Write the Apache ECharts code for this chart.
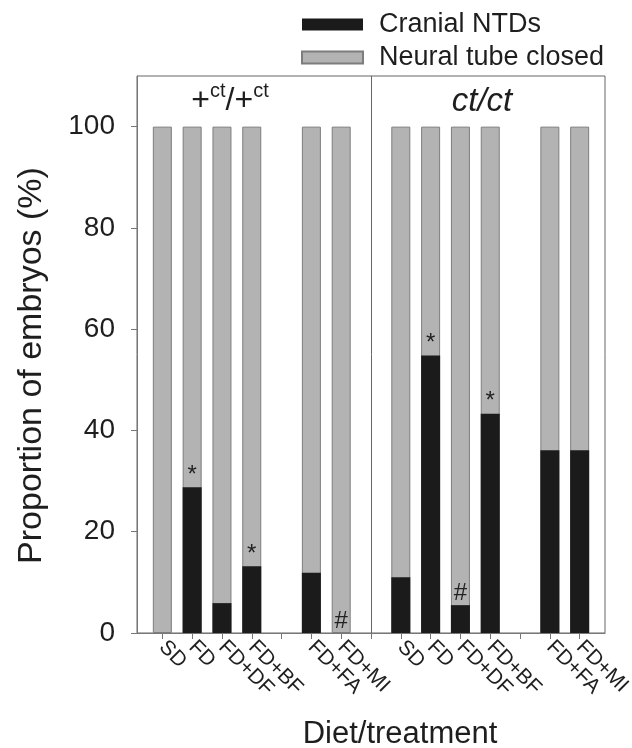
<!DOCTYPE html>
<html>
<head>
<meta charset="utf-8">
<script src="https://cdn.jsdelivr.net/npm/echarts@6/dist/echarts.min.js"></script>
<style>
html, body { margin: 0; padding: 0; background: #fff; }
#chart { width: 632px; height: 748px; }
</style>
</head>
<body>
<div id="chart"></div>
<script>
// slot of each bar on the x axis (5 and 13 are gaps, 8 is the genotype divider)
var slots = [1, 2, 3, 4, 6, 7, 9, 10, 11, 12, 14, 15];
var treatments = ['SD', 'FD', 'FD+DF', 'FD+BF', 'FD+FA', 'FD+MI',
                  'SD', 'FD', 'FD+DF', 'FD+BF', 'FD+FA', 'FD+MI'];
var cranialNTDs = [0, 28.8, 5.9, 13.2, 11.9, 0, 11.0, 54.8, 5.5, 43.3, 36.1, 36.1];
var tubeClosed = [100, 71.2, 94.1, 86.8, 88.1, 100, 89.0, 45.2, 94.5, 56.7, 63.9, 63.9];
var marks = ['', '*', '', '*', '', '#', '', '*', '#', '*', '', ''];
var xTicks = [1, 2, 3, 4, 5, 6, 7, 8, 9, 10, 11, 12, 13, 14, 15];
var yTicks = [0, 20, 40, 60, 80, 100];
var dividerSlot = 8;

var FONT = '"Liberation Sans", Arial, Helvetica, sans-serif';
var TEXT = '#1e1e1e';

// the grey part sits on top of the black part, so its bar runs up to the sum
var topOfClosed = [];
for (var k = 0; k < slots.length; k++) {
    topOfClosed.push(cranialNTDs[k] + tubeClosed[k]);
}

function pairs(vals) {
    var out = [];
    for (var i = 0; i < slots.length; i++) {
        out.push([slots[i], vals[i]]);
    }
    return out;
}

var myChart = echarts.init(document.getElementById('chart'));

var option = {
    animation: false,
    backgroundColor: '#fff',
    textStyle: { fontFamily: FONT, color: TEXT },
    legend: {
        orient: 'vertical',
        left: 296,
        top: 6,
        itemWidth: 61,
        itemHeight: 12,
        itemGap: 6,
        icon: 'rect',
        data: ['Cranial NTDs', 'Neural tube closed'],
        textStyle: { fontFamily: FONT, fontSize: 27, color: TEXT, padding: [0, 0, 0, 11] }
    },
    grid: {
        left: 137,
        right: 27,
        top: 76,
        bottom: 115,
        show: true,
        borderColor: '#666',
        borderWidth: 1,
        outerBoundsMode: 'none'
    },
    graphic: [
        {
            type: 'text',
            x: 230,
            y: 99,
            style: {
                text: '{a|+}{s|ct}{a|/+}{s|ct}',
                align: 'center',
                verticalAlign: 'middle',
                fill: TEXT,
                rich: {
                    a: { fontFamily: FONT, fontSize: 32, lineHeight: 36, verticalAlign: 'bottom', fill: TEXT },
                    s: { fontFamily: FONT, fontSize: 20, lineHeight: 20, verticalAlign: 'top', fill: TEXT }
                }
            }
        },
        {
            type: 'text',
            x: 482,
            y: 102,
            style: {
                text: 'ct/ct',
                align: 'center',
                verticalAlign: 'middle',
                fill: TEXT,
                font: 'italic 33px ' + FONT
            }
        }
    ],
    xAxis: {
        type: 'value',
        min: 0.15,
        max: 15.85,
        name: 'Diet/treatment',
        nameLocation: 'middle',
        nameGap: 86,
        nameTextStyle: { fontFamily: FONT, fontSize: 31, color: TEXT, padding: [0, 0, 0, 58] },
        axisLine: { lineStyle: { color: '#777', width: 1 } },
        axisTick: { customValues: xTicks, length: 6, lineStyle: { color: '#777' } },
        axisLabel: {
            customValues: slots,
            rotate: -45,
            margin: 11,
            fontSize: 21,
            lineHeight: 16,
            color: TEXT,
            fontFamily: FONT,
            formatter: function (v) {
                var i = slots.indexOf(v);
                return i < 0 ? '' : treatments[i];
            }
        },
        splitLine: { show: false }
    },
    yAxis: {
        type: 'value',
        min: 0,
        max: 110,
        name: 'Proportion of embryos (%)',
        nameLocation: 'middle',
        nameGap: 88,
        nameTextStyle: { fontFamily: FONT, fontSize: 34, color: TEXT, padding: [0, 22, 0, 0] },
        axisLine: { show: true, lineStyle: { color: '#777', width: 1 } },
        axisTick: { show: true, customValues: yTicks, length: 6, lineStyle: { color: '#777' } },
        axisLabel: { customValues: yTicks, fontSize: 28, margin: 22, color: TEXT, fontFamily: FONT },
        splitLine: { show: false }
    },
    series: [
        {
            name: 'Neural tube closed',
            type: 'bar',
            barWidth: 19,
            barGap: '-100%',
            data: pairs(topOfClosed),
            itemStyle: { color: '#b3b3b3', borderColor: '#7d7d7d', borderWidth: 1 },
            markLine: {
                silent: true,
                symbol: 'none',
                label: { show: false },
                lineStyle: { color: '#666', width: 1, type: 'solid' },
                data: [{ xAxis: dividerSlot }]
            }
        },
        {
            name: 'Cranial NTDs',
            type: 'bar',
            z: 3,
            barWidth: 19,
            barGap: '-100%',
            data: pairs(cranialNTDs),
            itemStyle: { color: '#1b1b1b' },
            label: {
                show: true,
                position: 'top',
                distance: 0,
                fontSize: 24,
                color: '#222',
                fontFamily: FONT,
                formatter: function (p) { return marks[p.dataIndex]; }
            }
        }
    ]
};

myChart.setOption(option);
</script>
</body>
</html>
